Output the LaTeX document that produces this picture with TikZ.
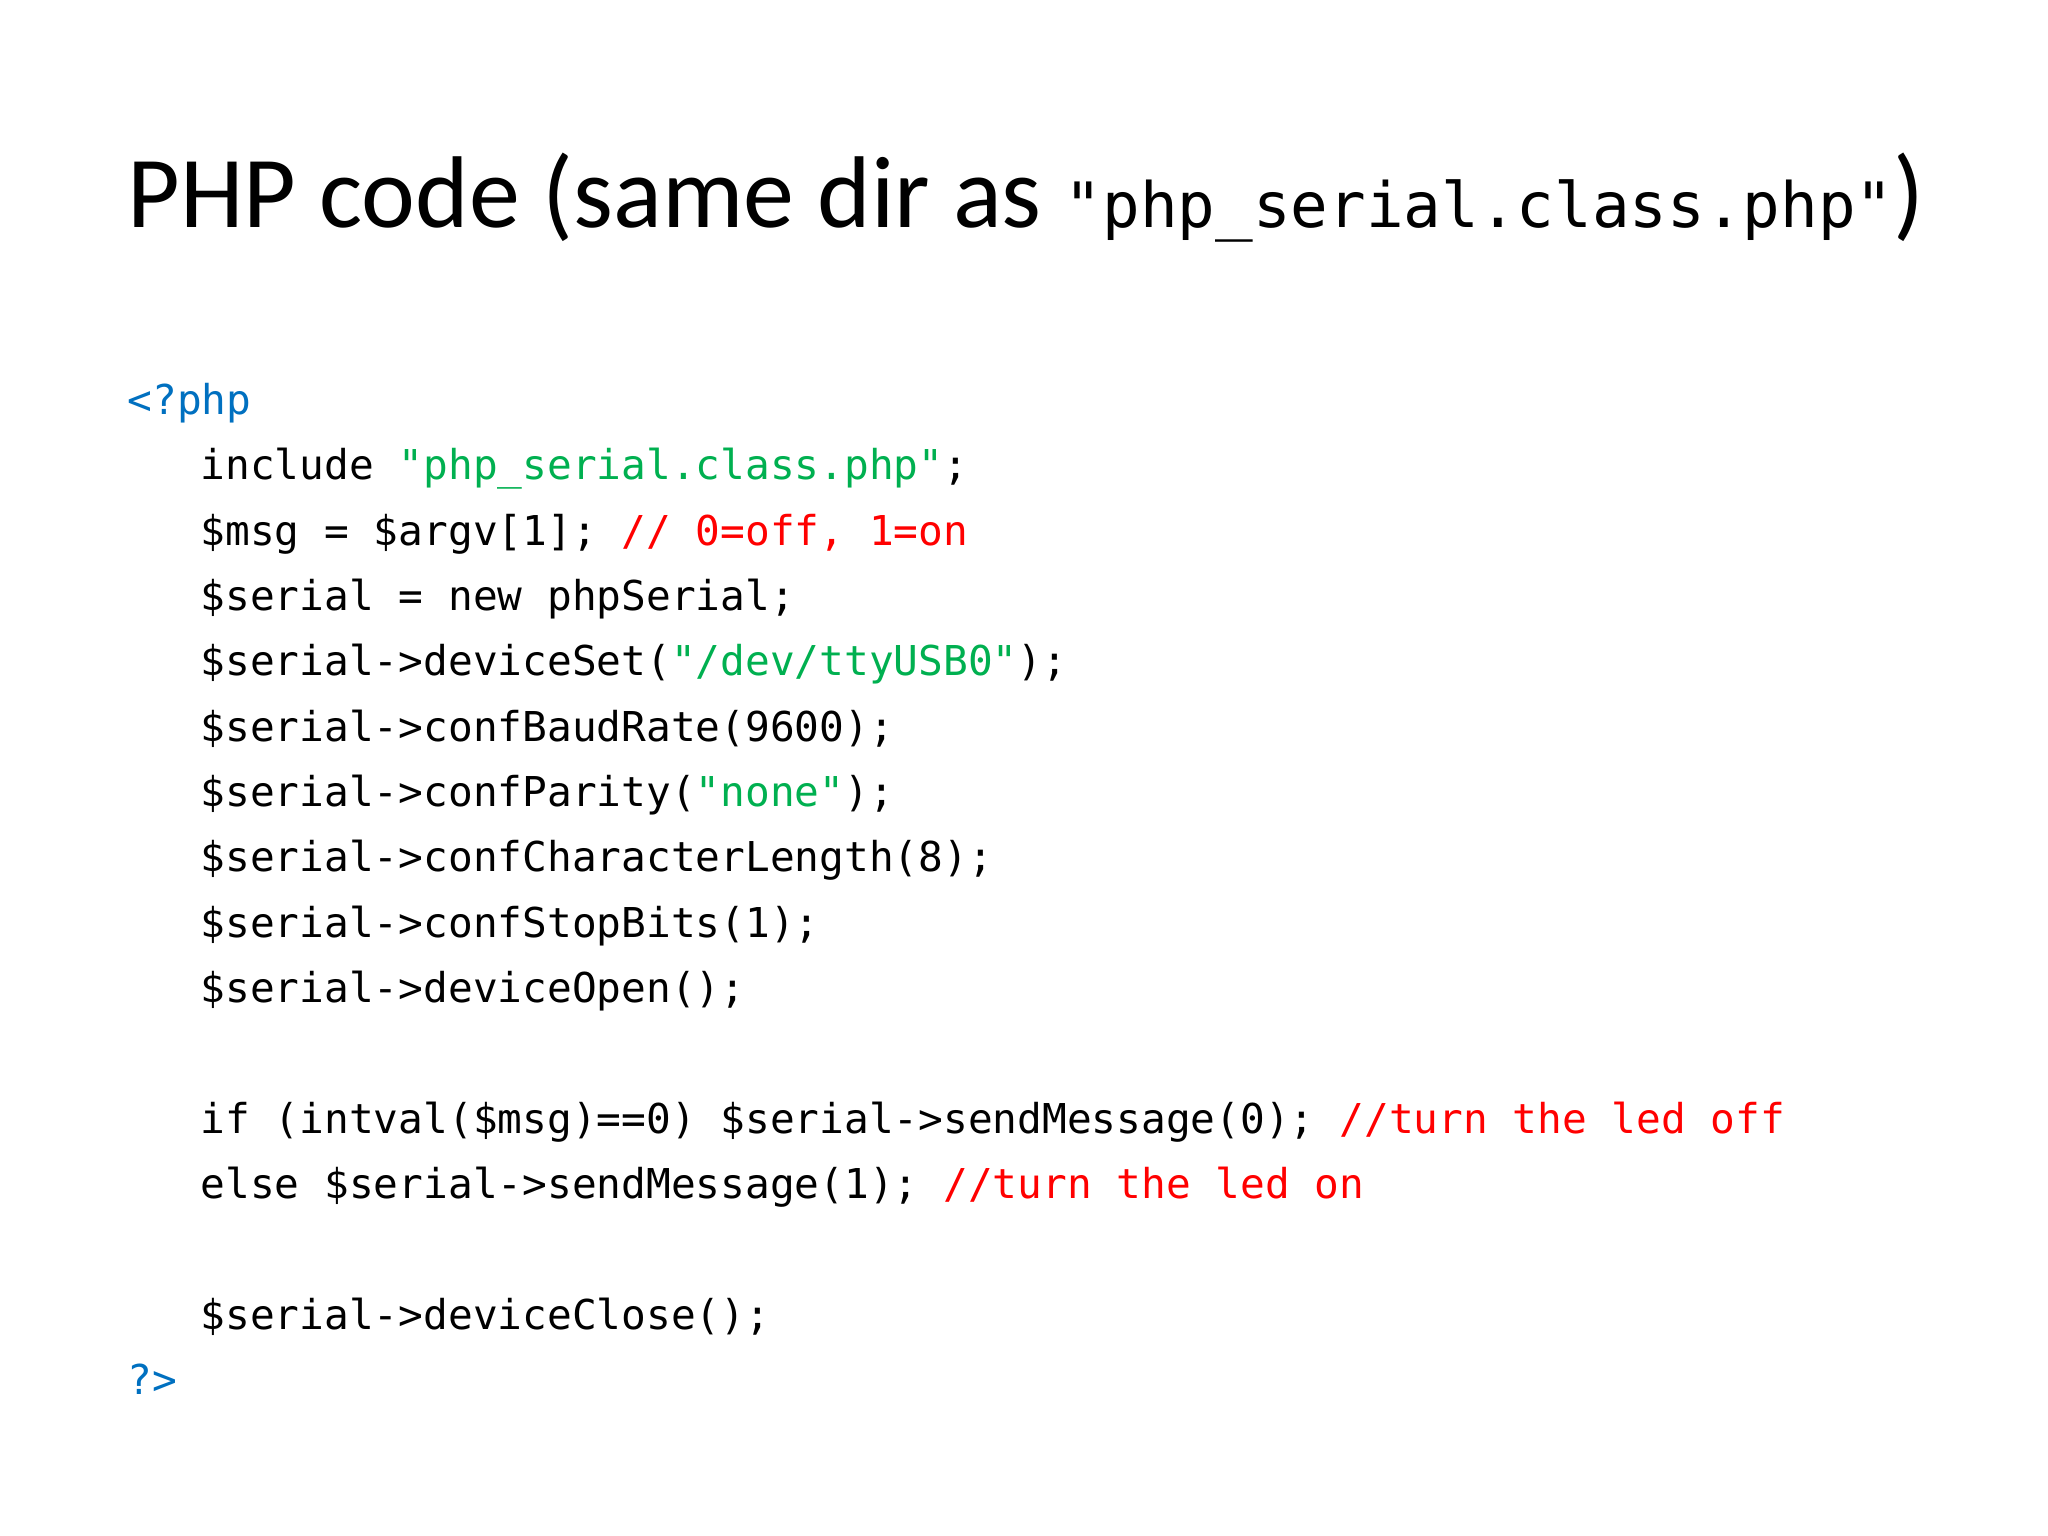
\documentclass[tikz,border=0pt]{standalone}
\usepackage{fontspec}
\setmainfont{Carlito}
\newfontfamily\codefont{DejaVu Sans Mono}
\definecolor{kwblue}{HTML}{0070C0}
\definecolor{strgreen}{HTML}{00B050}
\definecolor{cmtred}{HTML}{FF0000}
\newcommand{\str}[1]{\textcolor{strgreen}{#1}}
\newcommand{\cmt}[1]{\textcolor{cmtred}{#1}}
\tikzset{codeline/.style={anchor=base west,inner sep=0pt,font=\codefont\fontsize{11.7}{14}\selectfont}}
\begin{document}
\begin{tikzpicture}[x=1cm,y=1cm]
\useasboundingbox[fill=white] (0,0) rectangle (20.48,15.36);
\node[anchor=base west,inner sep=0pt,font=\fontsize{29}{34}\selectfont] (title) at (1.27,13.08)
  {PHP code (same dir as {\codefont\fontsize{17.8}{20}\selectfont "php\_serial.class.php"})};
\node[codeline,text=kwblue] (l0) at (1.27,11.21) {<?php};
\node[codeline] (l1) at (2.00,10.56) {include \str{"php\_serial.class.php"};};
\node[codeline] (l2) at (2.00,9.90) {\$msg = \$argv[1]; \cmt{// 0=off, 1=on}};
\node[codeline] (l3) at (2.00,9.25) {\$serial = new phpSerial;};
\node[codeline] (l4) at (2.00,8.60) {\$serial->deviceSet(\str{"/dev/ttyUSB0"});};
\node[codeline] (l5) at (2.00,7.94) {\$serial->confBaudRate(9600);};
\node[codeline] (l6) at (2.00,7.29) {\$serial->confParity(\str{"none"});};
\node[codeline] (l7) at (2.00,6.64) {\$serial->confCharacterLength(8);};
\node[codeline] (l8) at (2.00,5.98) {\$serial->confStopBits(1);};
\node[codeline] (l9) at (2.00,5.33) {\$serial->deviceOpen();};
\node[codeline] (l11) at (2.00,4.02) {if (intval(\$msg)==0) \$serial->sendMessage(0); \cmt{//turn the led off}};
\node[codeline] (l12) at (2.00,3.37) {else \$serial->sendMessage(1); \cmt{//turn the led on}};
\node[codeline] (l14) at (2.00,2.06) {\$serial->deviceClose();};
\node[codeline,text=kwblue] (l15) at (1.27,1.41) {?>};
\end{tikzpicture}
\end{document}
